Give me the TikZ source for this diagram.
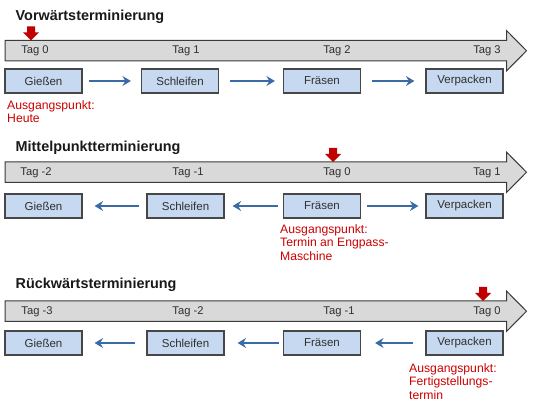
\documentclass[tikz,border=0pt]{standalone}
\usepackage{fontspec}
\setmainfont{Liberation Sans}
\usetikzlibrary{arrows.meta}
\definecolor{tlfill}{HTML}{D9D9D9}
\definecolor{tlline}{HTML}{3A3A3A}
\definecolor{boxfill}{HTML}{C6D9F0}
\definecolor{boxline}{HTML}{474747}
\definecolor{flowblue}{HTML}{3B6BA5}
\definecolor{markred}{HTML}{C00000}
\definecolor{notered}{HTML}{CC0000}
\definecolor{txtgrey}{HTML}{303030}
\tikzset{
  title/.style={anchor=west, inner sep=0pt, text=black!90,
    font=\fontsize{14.4}{16}\selectfont\bfseries},
  tag/.style={inner sep=0pt, text=txtgrey, font=\fontsize{11.2}{13}\selectfont},
  procbox/.style={draw=boxline, fill=boxfill, line width=1.2pt,
    minimum width=77pt, minimum height=24pt, inner sep=0pt,
    text=txtgrey, font=\fontsize{11.5}{13}\selectfont},
  flow/.style={draw=flowblue, line width=2pt,
    -{Stealth[length=8.5pt,width=10pt,inset=3pt]}},
  note/.style={anchor=north west, inner sep=0pt, align=left, text=notered,
    font=\fontsize{12.2}{13.3}\selectfont},
  timeline/.pic={
    \draw[draw=tlline, fill=tlfill, line width=1pt]
      (5,0) -- (506.5,0) -- (506.5,-10) -- (526.5,10.25) -- (506.5,30.5)
      -- (506.5,20.5) -- (5,20.5) -- cycle;
  },
  marker/.pic={
    \fill[markred] (-4,0) -- (4,0) -- (4,6) -- (8,6) -- (0,14) -- (-8,6)
      -- (-4,6) -- cycle;
  }
}
\begin{document}
\begin{tikzpicture}[x=1pt,y=-1pt]
\useasboundingbox (0,0) rectangle (555,414);

% ---------------- Section 1: Vorwaertsterminierung
\node[title] (h1) at (15.5,17) {Vorwärtsterminierung};
\pic at (0,40.5) {timeline};
\pic at (31,26.5) {marker};
\node[tag] (t10) at (35,51) {Tag 0};
\node[tag] (t11) at (186,51) {Tag 1};
\node[tag] (t12) at (337,51) {Tag 2};
\node[tag] (t13) at (487,51) {Tag 3};
\node[procbox] (g1) at (43.5,81) {Gießen};
\node[procbox] (s1) at (180,81) {Schleifen};
\node[procbox] (f1) at (322,81) {Fräsen};
\node[procbox] (v1) at (464.5,81) {Verpacken};
\draw[flow] ([xshift=6pt]g1.east) -- ([xshift=-10pt]s1.west);
\draw[flow] ([xshift=11pt]s1.east) -- ([xshift=-8pt]f1.west);
\draw[flow] ([xshift=11pt]f1.east) -- ([xshift=-11pt]v1.west);
\node[note] (n1) at (7,100.5) {Ausgangspunkt:\\Heute};

% ---------------- Section 2: Mittelpunktterminierung
\node[title] (h2) at (15.5,148) {Mittelpunktterminierung};
\pic at (0,162) {timeline};
\pic at (333,148) {marker};
\node[tag] (t20) at (36,172.5) {Tag -2};
\node[tag] (t21) at (188,172.5) {Tag -1};
\node[tag] (t22) at (337,172.5) {Tag 0};
\node[tag] (t23) at (487,172.5) {Tag 1};
\node[procbox] (g2) at (43.5,206) {Gießen};
\node[procbox] (s2) at (185.5,206) {Schleifen};
\node[procbox] (f2) at (322,206) {Fräsen};
\node[procbox] (v2) at (464.5,206) {Verpacken};
\draw[flow] ([xshift=-7pt]s2.west) -- ([xshift=12pt]g2.east);
\draw[flow] ([xshift=-5pt]f2.west) -- ([xshift=8pt]s2.east);
\draw[flow] ([xshift=6pt]f2.east) -- ([xshift=-7pt]v2.west);
\node[note] (n2) at (280,224.5) {Ausgangspunkt:\\Termin an Engpass-\\Maschine};

% ---------------- Section 3: Rueckwaertsterminierung
\node[title] (h3) at (15.5,284.5) {Rückwärtsterminierung};
\pic at (0,301) {timeline};
\pic at (483,287) {marker};
\node[tag] (t30) at (37,311.5) {Tag -3};
\node[tag] (t31) at (188,311.5) {Tag -2};
\node[tag] (t32) at (339,311.5) {Tag -1};
\node[tag] (t33) at (487,311.5) {Tag 0};
\node[procbox] (g3) at (43.5,343) {Gießen};
\node[procbox] (s3) at (185.5,343) {Schleifen};
\node[procbox] (f3) at (322,343) {Fräsen};
\node[procbox] (v3) at (464.5,343) {Verpacken};
\draw[flow] ([xshift=-11pt]s3.west) -- ([xshift=12pt]g3.east);
\draw[flow] ([xshift=-4pt]f3.west) -- ([xshift=13pt]s3.east);
\draw[flow] ([xshift=-12pt]v3.west) -- ([xshift=14pt]f3.east);
\node[note] (n3) at (409,363.5) {Ausgangspunkt:\\Fertigstellungs-\\termin};
\end{tikzpicture}
\end{document}
